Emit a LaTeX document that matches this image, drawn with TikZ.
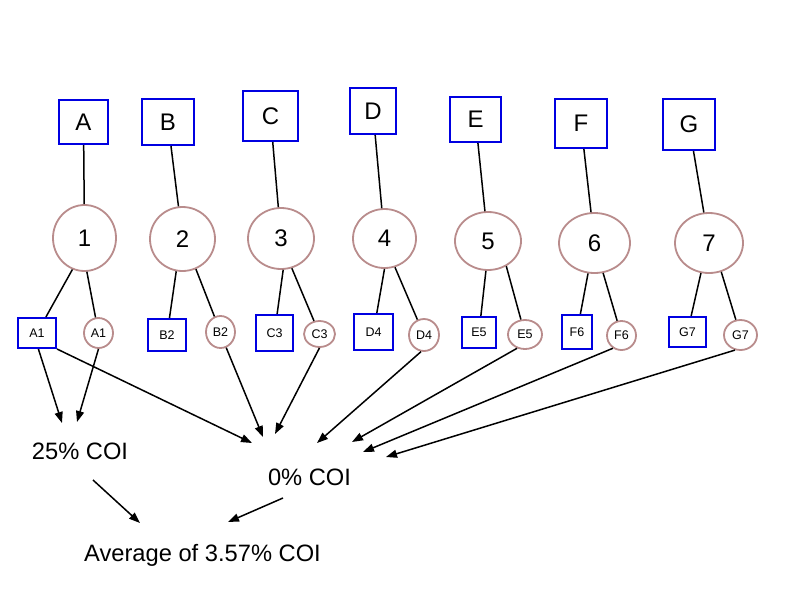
\documentclass[tikz,border=0pt]{standalone}
\usepackage{fontspec}
\setmainfont{Liberation Sans}
\usetikzlibrary{arrows.meta,shapes.geometric}
\definecolor{boxblue}{RGB}{0,0,225}
\definecolor{ellbrown}{RGB}{185,140,140}
\begin{document}
\begin{tikzpicture}[x=1pt,y=-1pt,
  bigbox/.style={draw=boxblue,line width=2pt,inner sep=0pt,font=\fontsize{24}{28}\selectfont},
  bigell/.style={ellipse,draw=ellbrown,line width=1.8pt,inner sep=0pt,font=\fontsize{24}{28}\selectfont},
  smallbox/.style={draw=boxblue,line width=2pt,inner sep=0pt,font=\fontsize{12.5}{14}\selectfont},
  smallell/.style={ellipse,draw=ellbrown,line width=1.8pt,inner sep=0pt,font=\fontsize{12.5}{14}\selectfont},
  link/.style={draw=black,line width=1.5pt},
  arr/.style={draw=black,line width=1.5pt,-{Triangle[length=11pt,width=8pt]}},
  coi/.style={inner sep=0pt,anchor=base,font=\fontsize{23.7}{28}\selectfont}]
\useasboundingbox (0,0) rectangle (800,600);
\fill[white] (0,0) rectangle (800,600);
% top boxes
\node[bigbox,minimum width=49pt,minimum height=44pt] (A) at (83.5,122) {A};
\node[bigbox,minimum width=52pt,minimum height=46pt] (B) at (168,122) {B};
\node[bigbox,minimum width=55pt,minimum height=50pt] (C) at (270.5,116) {C};
\node[bigbox,minimum width=46pt,minimum height=46pt] (D) at (373,111) {D};
\node[bigbox,minimum width=51pt,minimum height=45pt] (E) at (475.5,119.5) {E};
\node[bigbox,minimum width=52pt,minimum height=49pt] (F) at (581,123.5) {F};
\node[bigbox,minimum width=52pt,minimum height=51pt] (G) at (689,124.5) {G};
% ellipses
\node[bigell,minimum width=63pt,minimum height=66pt] (n1) at (84.5,238) {1};
\node[bigell,minimum width=65pt,minimum height=64pt] (n2) at (182.5,239) {2};
\node[bigell,minimum width=66pt,minimum height=61pt] (n3) at (281,238.5) {3};
\node[bigell,minimum width=63pt,minimum height=59pt] (n4) at (384.5,238.5) {4};
\node[bigell,minimum width=66pt,minimum height=58pt] (n5) at (488,241) {5};
\node[bigell,minimum width=71pt,minimum height=60pt] (n6) at (594.5,243) {6};
\node[bigell,minimum width=68pt,minimum height=60pt] (n7) at (709,243) {7};
% small boxes
\node[smallbox,minimum width=38pt,minimum height=30pt] (a1b) at (37,333) {A1};
\node[smallbox,minimum width=38pt,minimum height=32pt] (b2b) at (167,335) {B2};
\node[smallbox,minimum width=37pt,minimum height=36pt] (c3b) at (274.5,333) {C3};
\node[smallbox,minimum width=39pt,minimum height=36pt] (d4b) at (373.5,332) {D4};
\node[smallbox,minimum width=34pt,minimum height=31pt] (e5b) at (479,332.5) {E5};
\node[smallbox,minimum width=30pt,minimum height=34pt] (f6b) at (577,332) {F6};
\node[smallbox,minimum width=37pt,minimum height=30pt] (g7b) at (687.5,332) {G7};
% small circles
\node[smallell,minimum width=29pt,minimum height=30pt] (a1c) at (98.5,333) {A1};
\node[smallell,minimum width=29pt,minimum height=32pt] (b2c) at (220.5,332) {B2};
\node[smallell,minimum width=31pt,minimum height=26pt] (c3c) at (319.5,334) {C3};
\node[smallell,minimum width=30pt,minimum height=32pt] (d4c) at (424,335) {D4};
\node[smallell,minimum width=34pt,minimum height=29pt] (e5c) at (525,334.5) {E5};
\node[smallell,minimum width=29pt,minimum height=29pt] (f6c) at (621.5,335.5) {F6};
\node[smallell,minimum width=33pt,minimum height=30pt] (g7c) at (740.5,335) {G7};
% texts
\node[coi] (c25) at (80,459) {25\% COI};
\node[coi] (c0) at (309.5,485) {0\% COI};
\node[coi] (avg) at (202.5,561) {Average of 3.57\% COI};
% arrow tips and free ends
\coordinate (t1) at (62,423);
\coordinate (t2) at (77,422);
\coordinate (t3) at (252,443);
\coordinate (t4) at (263,437);
\coordinate (t5) at (275,434);
\coordinate (t6) at (317,443);
\coordinate (t7) at (352,442);
\coordinate (t8) at (363,452);
\coordinate (t9) at (386,457);
\coordinate (s10) at (93,480);
\coordinate (t10) at (140,523);
\coordinate (s11) at (283,498);
\coordinate (t11) at (228,522);
% links top
\draw[link] (A) -- (n1);
\draw[link] (B) -- (n2);
\draw[link] (C) -- (n3);
\draw[link] (D) -- (n4);
\draw[link] (E) -- (n5);
\draw[link] (F) -- (n6);
\draw[link] (G) -- (n7);
% links bottom
\draw[link] (n1.-111) -- (a1b);
\draw[link] (n1.-86) -- (a1c);
\draw[link] (n2.-101) -- (b2b);
\draw[link] (n2.-66) -- (b2c);
\draw[link] (n3.-86) -- (c3b);
\draw[link] (n3.-70) -- (c3c);
\draw[link] (n4.-90) -- (d4b);
\draw[link] (n4.-70) -- (d4c);
\draw[link] (n5.-94) -- (e5b);
\draw[link] (n5.-54) -- (e5c);
\draw[link] (n6.-102) -- (f6b);
\draw[link] (n6.-74) -- (f6c);
\draw[link] (n7.-105) -- (g7b);
\draw[link] (n7.-67) -- (g7c);
% arrows
\draw[arr] (a1b.-85) -- (t1);
\draw[arr] (a1c.south) -- (t2);
\draw[arr] (a1b.south east) -- (t3);
\draw[arr] (b2c.-70) -- (t4);
\draw[arr] (c3c.south) -- (t5);
\draw[arr] (d4c.-100) -- (t6);
\draw[arr] (e5c.-120) -- (t7);
\draw[arr] (f6c.-124) -- (t8);
\draw[arr] (g7c.-110) -- (t9);
\draw[arr] (s10) -- (t10);
\draw[arr] (s11) -- (t11);
\end{tikzpicture}
\end{document}
